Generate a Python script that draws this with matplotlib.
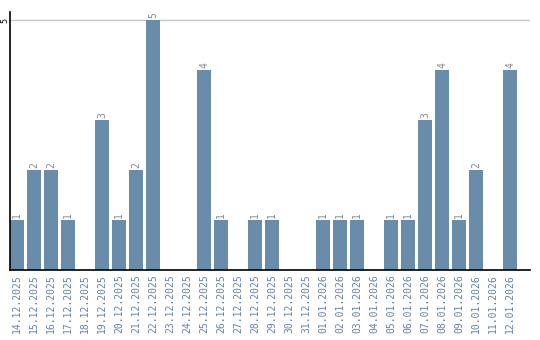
import matplotlib
matplotlib.use("Agg")
import matplotlib.pyplot as plt
import numpy as np

dates = ["14.12.2025", "15.12.2025", "16.12.2025", "17.12.2025", "18.12.2025",
         "19.12.2025", "20.12.2025", "21.12.2025", "22.12.2025", "23.12.2025",
         "24.12.2025", "25.12.2025", "26.12.2025", "27.12.2025", "28.12.2025",
         "29.12.2025", "30.12.2025", "31.12.2025", "01.01.2026", "02.01.2026",
         "03.01.2026", "04.01.2026", "05.01.2026", "06.01.2026", "07.01.2026",
         "08.01.2026", "09.01.2026", "10.01.2026", "11.01.2026", "12.01.2026"]
counts = [1, 2, 2, 1, 0, 3, 1, 2, 5, 0,
          0, 4, 1, 0, 1, 1, 0, 0, 1, 1,
          1, 0, 1, 1, 3, 4, 1, 2, 0, 4]

bar_col = "#6a8cab"
lab_col = "#6482a6"

fig = plt.figure(figsize=(5.4, 3.4), dpi=100)
ax = fig.add_axes([10/540, 70/340, 520/540, 258/340])

x = np.arange(len(dates))
w = 14/17
ax.bar(x, counts, width=w, align="edge", color=bar_col, zorder=2)

for xi, c in zip(x, counts):
    if c > 0:
        ax.text(xi + w/2, c + 0.04, str(c), rotation=90, ha="center", va="bottom",
                fontsize=7, family="DejaVu Sans Mono", color="#7f8c99")

ax.set_xlim(0, 520/17)
ax.set_ylim(0, 5 + 8/50)
ax.set_xticks(x + w/2)
ax.set_xticklabels(dates, rotation=90, fontsize=7, family="DejaVu Sans Mono", color=lab_col)
ax.set_yticks([5])
ax.set_yticklabels(["5"], rotation=90, fontsize=6, family="DejaVu Sans Mono", va="center")
ax.tick_params(axis="x", length=0, pad=3)
ax.tick_params(axis="y", length=0, pad=0.5)
ax.axhline(5, color="#c8c8c8", lw=1, zorder=1)

for s in ["top", "right"]:
    ax.spines[s].set_visible(False)
ax.spines["left"].set_linewidth(1.2)
ax.spines["bottom"].set_linewidth(1.2)

fig.savefig("out.png", dpi=100)
